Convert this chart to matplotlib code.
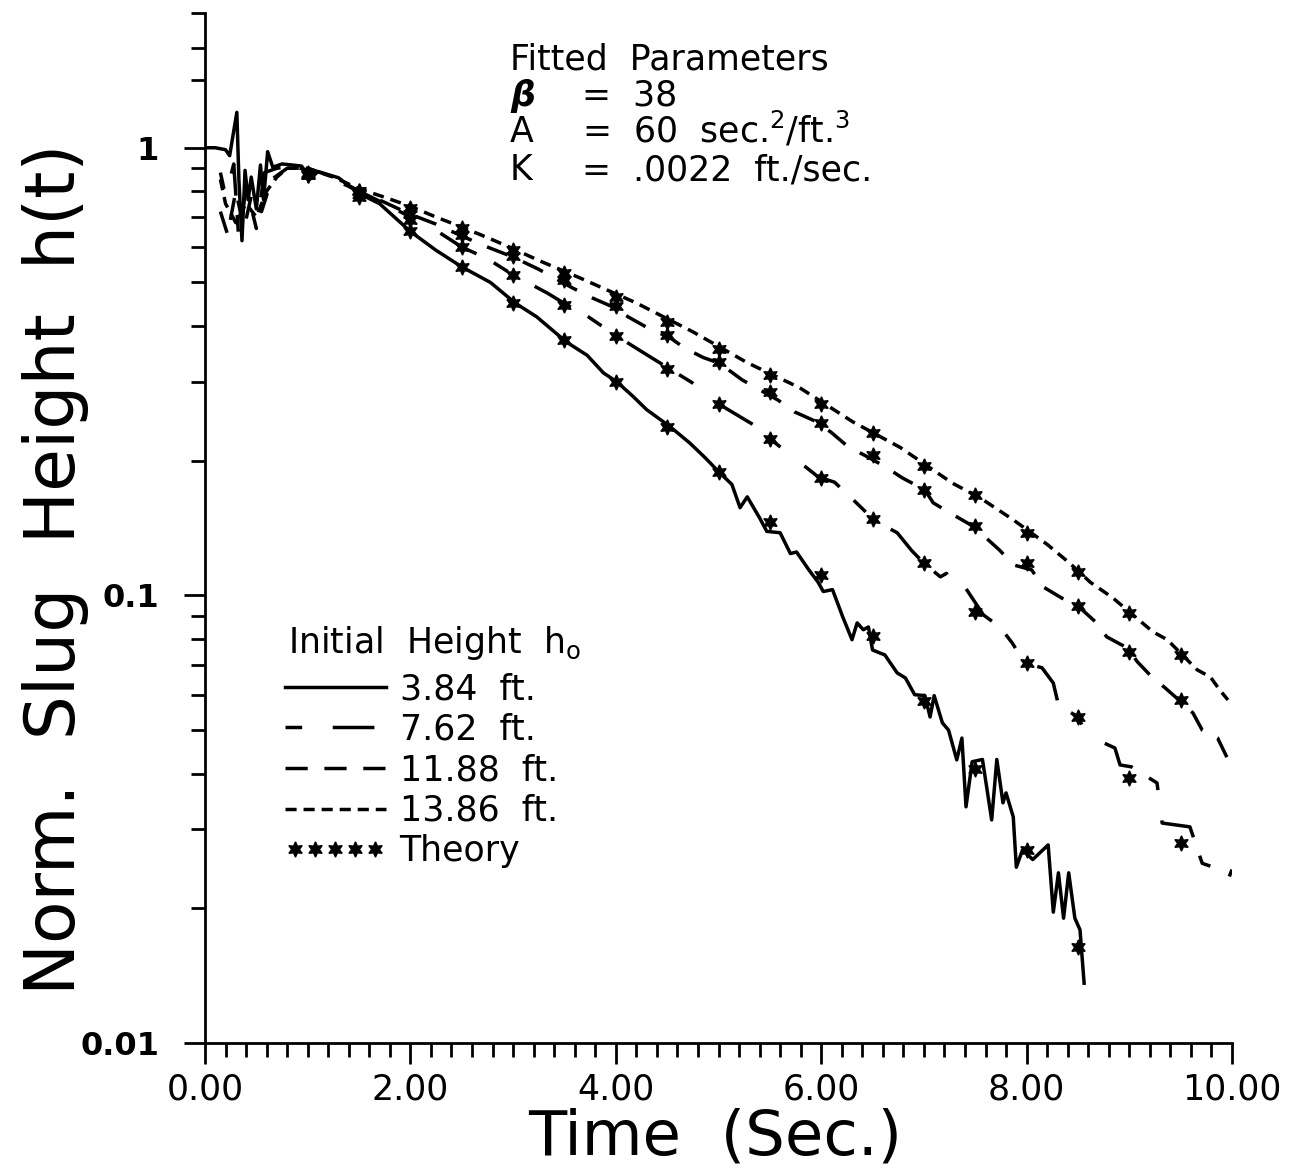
import matplotlib
matplotlib.use("Agg")
import matplotlib.pyplot as plt
from matplotlib.ticker import FixedLocator, NullFormatter
from matplotlib.legend_handler import HandlerLine2D

plt.rcParams['font.family'] = ['DejaVu Sans']
plt.rcParams['lines.scale_dashes'] = False
plt.rcParams['mathtext.fontset'] = 'dejavusans'

t_384 = [0.00, 0.10, 0.20, 0.24, 0.31, 0.33, 0.36, 0.39, 0.42, 0.45, 0.50, 0.54, 0.57, 0.61,
         0.66, 0.75, 0.85, 0.94, 1.00, 1.02, 1.10, 1.30, 1.50, 1.70, 2.00, 2.25, 2.50, 2.78,
         3.02, 3.23, 3.52, 3.72, 3.88, 4.01, 4.17, 4.30, 4.53, 4.72, 4.87, 5.01, 5.13, 5.21,
         5.28, 5.40, 5.47, 5.60, 5.70, 5.76, 5.88, 5.97, 6.02, 6.11, 6.21, 6.30, 6.35, 6.41,
         6.46, 6.50, 6.62, 6.74, 6.82, 6.91, 7.01, 7.06, 7.10, 7.18, 7.24, 7.32, 7.37, 7.41,
         7.47, 7.57, 7.66, 7.71, 7.77, 7.80, 7.87, 7.90, 7.96, 8.06, 8.21, 8.26, 8.31, 8.36,
         8.41, 8.47, 8.52, 8.56]
h_384 = [1.00, 1.00, 0.99, 0.96, 1.20, 0.85, 0.62, 0.89, 0.765, 0.86, 0.73, 0.915, 0.765, 0.98,
         0.905, 0.92, 0.915, 0.91, 0.87, 0.85, 0.885, 0.857, 0.79, 0.75, 0.65, 0.59, 0.542, 0.50,
         0.45, 0.419, 0.368, 0.344, 0.314, 0.30, 0.278, 0.26, 0.238, 0.219, 0.203, 0.188, 0.177, 0.157,
         0.166, 0.149, 0.139, 0.138, 0.124, 0.125, 0.114, 0.107, 0.102, 0.103, 0.0895, 0.0796, 0.0868, 0.0838,
         0.085, 0.0755, 0.0736, 0.0671, 0.0654, 0.060, 0.0597, 0.0535, 0.0597, 0.0519, 0.050, 0.0429, 0.048, 0.0337,
         0.0425, 0.043, 0.0315, 0.043, 0.0344, 0.0362, 0.032, 0.0247, 0.027, 0.0257, 0.0277, 0.0196, 0.024, 0.019,
         0.024, 0.019, 0.0179, 0.0136]

t_762 = [0.15, 0.20, 0.28, 0.33, 0.40, 0.50, 0.58, 0.70, 0.85, 1.00, 1.25, 1.50, 1.80, 2.00,
         2.20, 2.50, 2.75, 3.00, 3.33, 3.52, 3.70, 3.99, 4.38, 4.74, 5.01, 5.40, 5.52, 5.70,
         5.97, 6.13, 6.33, 6.48, 6.64, 6.74, 6.88, 7.00, 7.16, 7.22, 7.27, 7.38, 7.58, 7.74,
         7.86, 7.98, 8.15, 8.26, 8.31, 8.50, 8.55, 8.65, 8.86, 8.91, 9.02, 9.27, 9.32, 9.59,
         9.71, 9.82, 9.95, 10.00]
h_762 = [0.88, 0.78, 0.92, 0.62, 0.82, 0.66, 0.88, 0.90, 0.91, 0.89, 0.85, 0.80, 0.74, 0.70,
         0.665, 0.60, 0.565, 0.52, 0.474, 0.446, 0.424, 0.382, 0.336, 0.299, 0.267, 0.236, 0.222, 0.206,
         0.184, 0.179, 0.162, 0.150, 0.142, 0.138, 0.126, 0.118, 0.110, 0.112, 0.1045, 0.106, 0.0904, 0.085,
         0.0783, 0.0707, 0.0689, 0.0637, 0.0569, 0.0535, 0.0508, 0.048, 0.0456, 0.0418, 0.0414, 0.0381, 0.031, 0.0304,
         0.0252, 0.0247, 0.0228, 0.0244]

t_1188 = [0.15, 0.22, 0.30, 0.38, 0.45, 0.55, 0.65, 0.80, 1.00, 1.25, 1.50, 1.75, 2.00, 2.25,
          2.50, 2.75, 3.00, 3.25, 3.58, 3.77, 3.97, 4.12, 4.31, 4.53, 4.67, 4.85, 5.01, 5.23,
          5.40, 5.58, 5.74, 5.96, 6.10, 6.26, 6.45, 6.62, 6.79, 7.01, 7.09, 7.25, 7.45, 7.55,
          7.74, 7.87, 8.05, 8.16, 8.34, 8.52, 8.67, 8.78, 8.98, 9.08, 9.22, 9.35, 9.46, 9.62,
          9.71, 9.86, 9.95]
h_1188 = [0.72, 0.64, 0.80, 0.66, 0.78, 0.72, 0.85, 0.90, 0.90, 0.86, 0.80, 0.755, 0.71, 0.675,
          0.635, 0.60, 0.57, 0.535, 0.486, 0.462, 0.441, 0.419, 0.396, 0.376, 0.357, 0.34, 0.33, 0.303,
          0.288, 0.273, 0.257, 0.244, 0.231, 0.215, 0.204, 0.194, 0.183, 0.172, 0.161, 0.153, 0.144, 0.138,
          0.126, 0.117, 0.114, 0.1045, 0.0987, 0.0938, 0.0873, 0.0808, 0.0763, 0.071, 0.0657, 0.0621, 0.059, 0.0546,
          0.050, 0.048, 0.0435]

t_1386 = [0.15, 0.20, 0.30, 0.40, 0.50, 0.60, 0.70, 0.80, 1.00, 1.25, 1.50, 1.75, 2.00, 2.25,
          2.50, 2.75, 3.00, 3.25, 3.65, 4.20, 4.75, 5.28, 5.79, 6.31, 6.77, 7.28, 7.55, 7.87,
          8.20, 8.42, 8.62, 8.84, 9.23, 9.37, 9.66, 9.79, 9.88, 9.96]
h_1386 = [0.85, 0.75, 0.68, 0.75, 0.70, 0.80, 0.86, 0.90, 0.90, 0.86, 0.81, 0.775, 0.74, 0.70,
          0.665, 0.63, 0.595, 0.56, 0.512, 0.45, 0.388, 0.331, 0.291, 0.244, 0.214, 0.178, 0.165, 0.1475,
          0.13, 0.118, 0.107, 0.0987, 0.0829, 0.0796, 0.0682, 0.0657, 0.0615, 0.0584]

# theory points every 0.5 s
theory_t = [1.0, 1.5, 2.0, 2.5, 3.0, 3.5, 4.0, 4.5, 5.0, 5.5, 6.0, 6.5, 7.0, 7.5, 8.0, 8.5, 9.0, 9.5]
theory_384 = [0.87, 0.775, 0.65, 0.542, 0.45, 0.372, 0.30, 0.238, 0.189, 0.146, 0.111, 0.081,
              0.058, 0.041, 0.027, 0.0164]
theory_762 = [0.87, 0.79, 0.69, 0.60, 0.52, 0.446, 0.38, 0.321, 0.268, 0.223, 0.183, 0.148,
              0.118, 0.092, 0.0707, 0.0535, 0.0391, 0.028]
theory_1188 = [0.875, 0.80, 0.71, 0.64, 0.572, 0.507, 0.443, 0.382, 0.332, 0.285, 0.243, 0.206,
               0.172, 0.143, 0.118, 0.0948, 0.0748, 0.0584]
theory_1386 = [0.88, 0.80, 0.735, 0.662, 0.592, 0.526, 0.465, 0.409, 0.355, 0.311, 0.267, 0.231,
               0.195, 0.168, 0.138, 0.113, 0.0914, 0.0736]

labels = ['3.84  ft.', '7.62  ft.', '11.88  ft.', '13.86  ft.']

fig = plt.figure(figsize=(12.89, 11.72), dpi=100)
ax = fig.add_axes([205 / 1289, 129 / 1172, 1027 / 1289, 1030 / 1172])

lw = 2.5
l1, = ax.plot(t_384, h_384, color='black', lw=lw, ls='-', label=labels[0])
l2, = ax.plot(t_762, h_762, color='black', lw=lw, ls=(0, (12, 22, 30, 14)), label=labels[1])
l3, = ax.plot(t_1188, h_1188, color='black', lw=lw, ls=(0, (16, 12)), label=labels[2])
l4, = ax.plot(t_1386, h_1386, color='black', lw=lw, ls=(0, (8, 5)), label=labels[3])

mk = dict(color='black', ls='none', marker=(6, 1, 0), ms=11, mew=1)
lt, = ax.plot(theory_t[:len(theory_384)], theory_384, label='Theory', **mk)
ax.plot(theory_t, theory_762, **mk)
ax.plot(theory_t, theory_1188, **mk)
ax.plot(theory_t, theory_1386, **mk)

ax.set_yscale('log')
ax.set_xlim(0, 10)
ax.set_ylim(0.01, 2)

ax.spines['top'].set_visible(False)
ax.spines['right'].set_visible(False)
for s in ['left', 'bottom']:
    ax.spines[s].set_linewidth(2)

ax.set_xticks([0, 2, 4, 6, 8, 10])
ax.set_xticklabels(['0.00', '2.00', '4.00', '6.00', '8.00', '10.00'], fontsize=25)
ax.xaxis.set_minor_locator(FixedLocator([i * 0.2 for i in range(51)]))
ax.set_yticks([0.01, 0.1, 1])
ax.set_yticklabels(['0.01', '0.1', '1'], fontsize=23, fontweight='bold')
ymin = [m * d for d in (0.01, 0.1) for m in range(2, 10)] + [1.42, 1.67, 2.0]
ax.yaxis.set_minor_locator(FixedLocator(ymin))
ax.yaxis.set_minor_formatter(NullFormatter())
ax.tick_params(which='major', length=15, width=2, direction='out', pad=6)
ax.tick_params(axis='y', which='major', pad=18)
ax.tick_params(which='minor', length=10, width=2, direction='out')

ax.set_xlabel('Time  (Sec.)', fontsize=45)
ax.xaxis.set_label_coords(0.497, -0.063)
ax.set_ylabel('Norm.  Slug  Height  h(t)', fontsize=50)
ax.yaxis.set_label_coords(-0.113, 0.46)

# legend: title as its own text, entries below it
fig.text(288 / 1289, 1 - 653 / 1172, 'Initial  Height  h$_\\mathrm{o}$', fontsize=25, va='baseline')
leg = ax.legend(handles=[l1, l2, l3, l4, lt], loc='upper left',
                bbox_to_anchor=(80 / 1027, (1043 - 672) / 1030),
                frameon=False, fontsize=25, handlelength=2.9, handletextpad=0.4,
                labelspacing=0.19, numpoints=1, borderaxespad=0, borderpad=0,
                handler_map={lt: HandlerLine2D(numpoints=5)})

# fitted parameter block
fs = 25
def fx(px):
    return px / 1289
def fy(py):
    return 1 - py / 1172
fig.text(fx(510), fy(69), 'Fitted  Parameters', fontsize=fs, va='baseline')
fig.text(fx(510), fy(106), 'β', fontsize=fs, va='baseline', fontweight='bold', style='italic')
fig.text(fx(582), fy(106), '=  38', fontsize=fs, va='baseline')
fig.text(fx(510), fy(142), 'A', fontsize=fs, va='baseline')
fig.text(fx(582), fy(142), '=  60  sec.$^2$/ft.$^3$', fontsize=fs, va='baseline')
fig.text(fx(510), fy(180), 'K', fontsize=fs, va='baseline')
fig.text(fx(582), fy(180), '=  .0022  ft./sec.', fontsize=fs, va='baseline')

fig.savefig('out.png', dpi=100)
